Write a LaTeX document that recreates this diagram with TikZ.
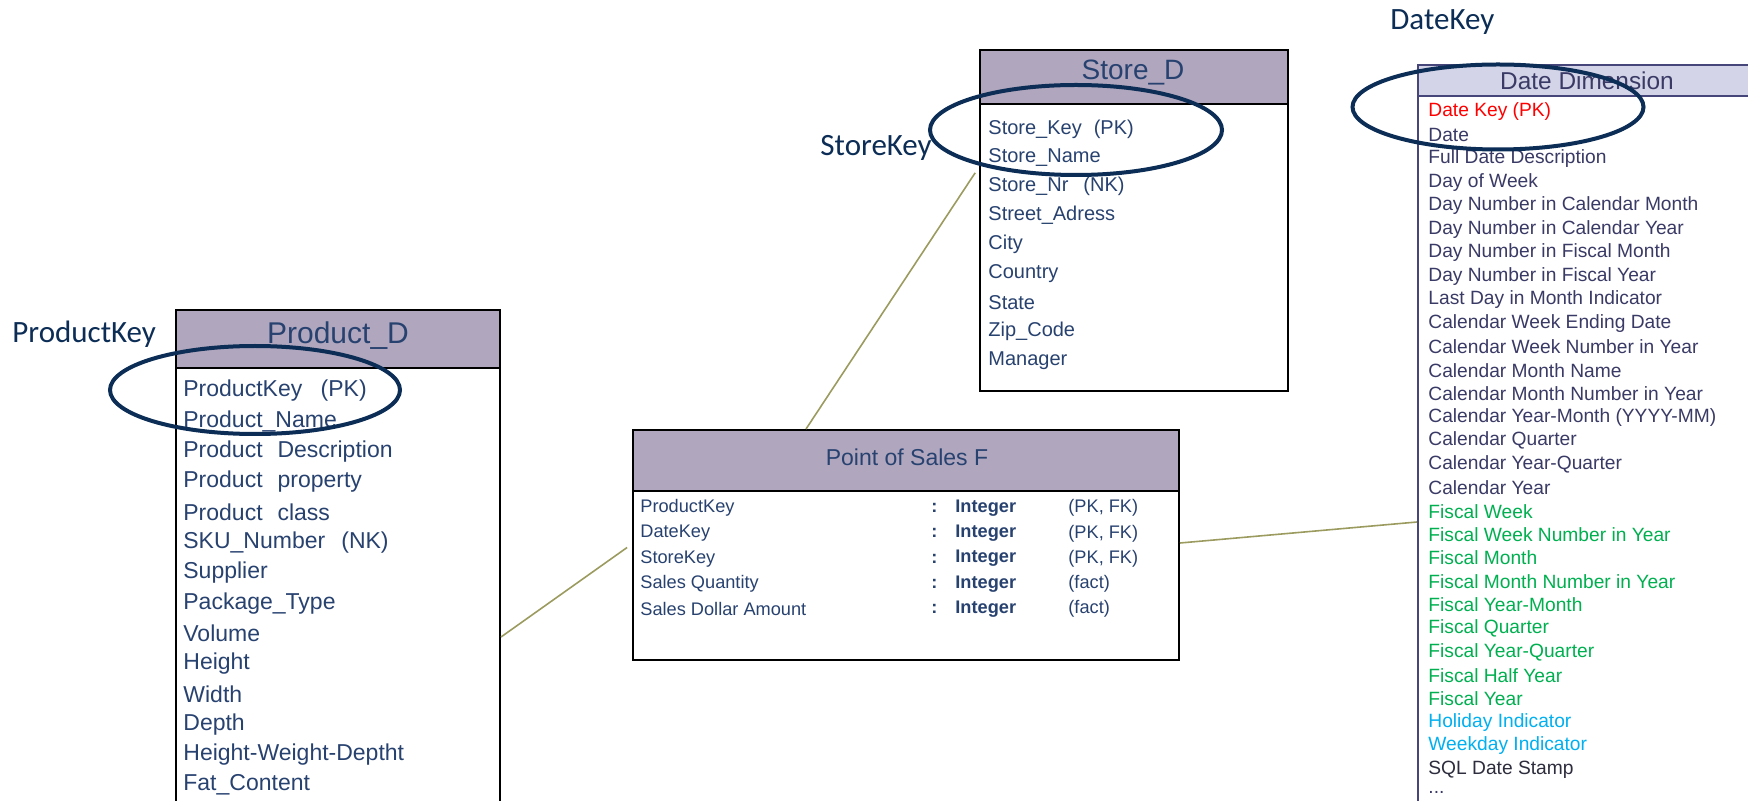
\documentclass[tikz,border=0pt]{standalone}
\usepackage{fontspec}
\setmainfont{Liberation Sans}
\newfontfamily\lblfont{Carlito}
\usetikzlibrary{shapes.geometric}
\newcommand\tripledot{...}
\definecolor{boxtext}{RGB}{40,66,112}
\definecolor{hdrfill}{RGB}{176,166,190}
\definecolor{datehdr}{RGB}{212,212,232}
\definecolor{datebord}{RGB}{70,70,122}
\definecolor{datetext}{RGB}{58,58,102}
\definecolor{datered}{RGB}{255,0,0}
\definecolor{dategreen}{RGB}{0,176,80}
\definecolor{dateblue}{RGB}{0,176,240}
\definecolor{datesql}{RGB}{45,45,62}
\definecolor{ringcol}{RGB}{12,45,85}
\definecolor{linkcol}{RGB}{155,155,95}
\begin{document}
\begin{tikzpicture}[x=0.5pt,y=-0.5pt,
  tbl/.style={draw=black, line width=1pt, fill=white, inner sep=0pt, anchor=north west},
  hdr/.style={draw=black, line width=1pt, fill=hdrfill, inner sep=0pt, anchor=north west},
  dtbl/.style={draw=datebord, line width=0.8pt, fill=white, inner sep=0pt, anchor=north west},
  dhdr/.style={draw=datebord, line width=0.8pt, fill=datehdr, inner sep=0pt, anchor=north west},
  title/.style={inner sep=0pt, text=boxtext},
  prow/.style={anchor=west, inner sep=0pt, text=boxtext, font=\fontsize{11.5}{13}\selectfont},
  srow/.style={anchor=west, inner sep=0pt, text=boxtext, font=\fontsize{10}{12}\selectfont},
  frow/.style={anchor=west, inner sep=0pt, text=boxtext, font=\fontsize{9.1}{11}\selectfont},
  drow/.style={anchor=west, inner sep=0pt, font=\fontsize{9.6}{11}\selectfont},
  ring/.style={ellipse, draw=ringcol, line width=2pt, inner sep=0pt},
  keylbl/.style={anchor=west, inner sep=0pt, text=ringcol, font=\lblfont\fontsize{15.5}{18}\selectfont},
  link/.style={draw=linkcol, line width=0.8pt}
]
\clip (0,0) rectangle (1748,801);

% ---------- Product_D ----------
\node[tbl, minimum width=162pt, minimum height=262pt] (prodbody) at (175,309) {};
\node[hdr, minimum width=162pt, minimum height=29pt] (prodhdr) at (175,309) {};
\node[title, font=\fontsize{15}{18}\selectfont] (prodtitle) at (338,336) {Product\_D};
\foreach \t [count=\i from 0] in {
  ProductKey\hspace{0.8em}(PK), Product\_Name, Product\hspace{0.65em}Description,
  Product\hspace{0.65em}property, Product\hspace{0.65em}class, SKU\_Number\hspace{0.7em}(NK),
  Supplier, Package\_Type, Volume, Height, Width, Depth, Height-Weight-Deptht, Fat\_Content}
  \node[prow] (prow\i) at (183,391+30.3*\i) {\t};

% ---------- Store_D ----------
\node[tbl, minimum width=154pt, minimum height=170.5pt] (storebody) at (979,49) {};
\node[hdr, minimum width=154pt, minimum height=27pt] (storehdr) at (979,49) {};
\node[title, font=\fontsize{14}{17}\selectfont] (storetitle) at (1133,73) {Store\_D};
\foreach \t [count=\i from 0] in {
  Store\_Key\hspace{0.6em}(PK), Store\_Name, Store\_Nr\hspace{0.75em}(NK), Street\_Adress,
  City, Country, State, Zip\_Code, Manager}
  \node[srow] (srow\i) at (988,129+28.9*\i) {\t};

% ---------- Point of Sales F ----------
\node[tbl, minimum width=273pt, minimum height=115pt] (posbody) at (632,429) {};
\node[hdr, minimum width=273pt, minimum height=30.5pt] (poshdr) at (632,429) {};
\node[title, font=\fontsize{11.5}{14}\selectfont] (postitle) at (907,457) {Point of Sales F};
\foreach \n/\k [count=\i from 0] in {
  ProductKey/{(PK, FK)}, DateKey/{(PK, FK)}, StoreKey/{(PK, FK)},
  Sales Quantity/{(fact)}, Sales Dollar Amount/{(fact)}} {
  \node[frow] (fname\i) at (640,508+25.3*\i) {\n};
  \node[frow] (fcolon\i) at (931,508+25.3*\i) {\textbf{:}};
  \node[frow] (ftype\i) at (955,508+25.3*\i) {\textbf{Integer}};
  \node[frow] (fkey\i) at (1068,508+25.3*\i) {\k};
}

% ---------- Date Dimension ----------
\node[dtbl, minimum width=181.5pt, minimum height=383pt] (datebody) at (1417,64) {};
\node[dhdr, minimum width=181.5pt, minimum height=15.5pt] (datehdrbox) at (1417,64) {};
\node[title, text=datetext, font=\fontsize{12.2}{14}\selectfont] (datetitle) at (1587,81) {Date Dimension};
\foreach \c/\t [count=\i from 0] in {
  datered/Date Key (PK), datetext/Date, datetext/Full Date Description, datetext/Day of Week,
  datetext/Day Number in Calendar Month, datetext/Day Number in Calendar Year,
  datetext/Day Number in Fiscal Month, datetext/Day Number in Fiscal Year,
  datetext/Last Day in Month Indicator, datetext/Calendar Week Ending Date,
  datetext/Calendar Week Number in Year, datetext/Calendar Month Name,
  datetext/Calendar Month Number in Year, datetext/Calendar Year-Month (YYYY-MM),
  datetext/Calendar Quarter, datetext/Calendar Year-Quarter, datetext/Calendar Year,
  dategreen/Fiscal Week, dategreen/Fiscal Week Number in Year, dategreen/Fiscal Month,
  dategreen/Fiscal Month Number in Year, dategreen/Fiscal Year-Month, dategreen/Fiscal Quarter,
  dategreen/Fiscal Year-Quarter, dategreen/Fiscal Half Year, dategreen/Fiscal Year,
  dateblue/Holiday Indicator, dateblue/Weekday Indicator, datesql/SQL Date Stamp, datetext/\tripledot}
  \node[drow, text=\c] (drow\i) at (1428,112+23.48*\i) {\t};

% ---------- connectors ----------
\draw[link, shorten >=3pt] (prodbody.east |- 0,637) -- (posbody.west |- 0,544);
\draw[link, shorten >=3.5pt] (posbody.north -| 806,0) -- (storebody.west |- 0,167);
\draw[link] (posbody.east |- 0,543) -- (datebody.west |- 0,522);

% ---------- key annotations ----------
\node[ring, minimum width=145pt, minimum height=44pt] (prodring) at (255,390) {};
\node[ring, minimum width=146pt, minimum height=45pt] (storering) at (1076,130) {};
\node[ring, minimum width=145.5pt, minimum height=42.5pt] (datering) at (1498,107) {};
\node[keylbl] (prodkeylbl) at (12,334) {ProductKey};
\node[keylbl] (storekeylbl) at (820,148) {StoreKey};
\node[keylbl] (datekeylbl) at (1390,22) {DateKey};
\end{tikzpicture}
\end{document}
